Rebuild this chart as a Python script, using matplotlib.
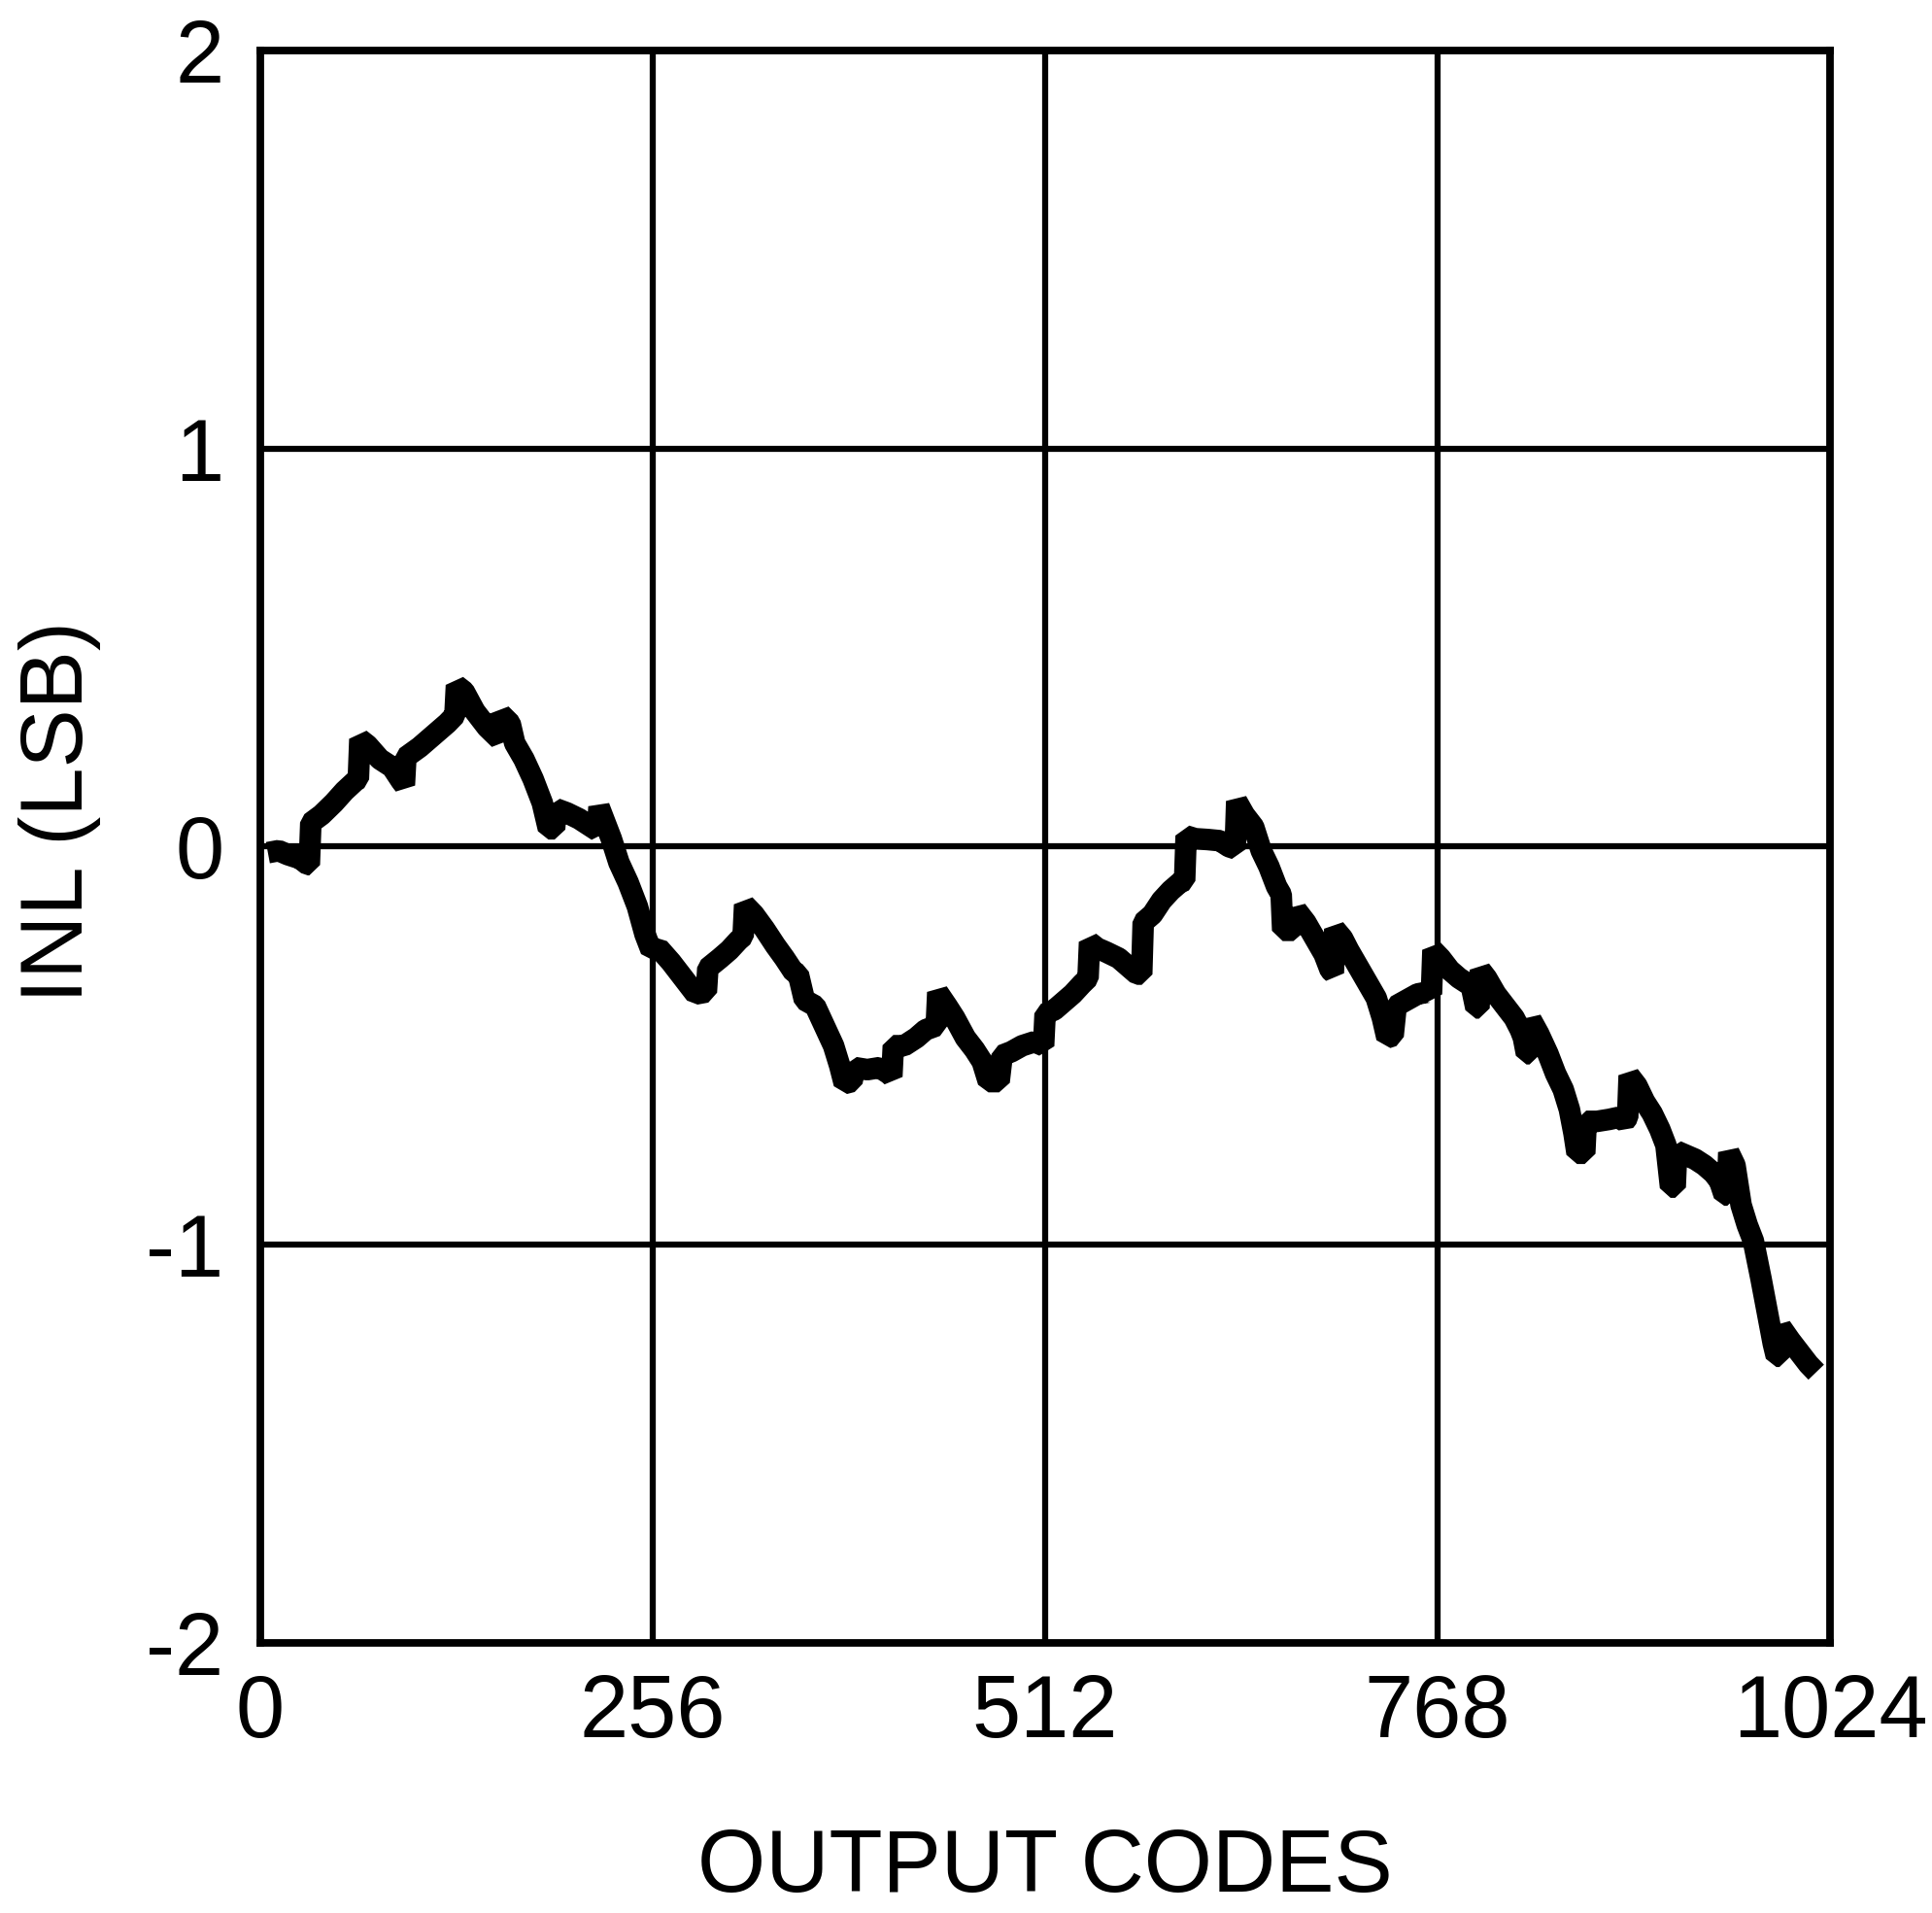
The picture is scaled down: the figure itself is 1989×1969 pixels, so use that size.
import matplotlib
matplotlib.use("Agg")
import matplotlib.pyplot as plt
from matplotlib.ticker import FixedLocator, FixedFormatter

# ---- data ----
output_codes = [
    5, 12, 18, 26, 31, 32, 33, 40, 48, 55, 62, 64, 65, 70, 78, 86, 92, 94, 95,
    104, 113, 122, 127, 128, 133, 140, 148, 156, 157, 163, 166, 172, 178, 184,
    188, 192, 193, 200, 208, 216, 220, 221, 229, 234, 240, 246, 251, 255,
    260, 268, 274, 280, 284, 291, 292, 300, 306, 312, 315, 316, 322, 329, 336,
    342, 348, 351, 355, 362, 368, 374, 378, 381, 386, 388, 396, 404, 410, 412,
    413, 420, 428, 434, 441, 442, 448, 453, 460, 466, 471, 475, 482, 484, 490,
    497, 505, 511, 512, 518, 524, 530, 536, 540, 541, 546, 552, 560, 566, 572,
    575, 576, 582, 588, 594, 600, 603, 604, 610, 618, 626, 632, 636, 637, 642,
    648, 653, 658, 663, 666, 667, 674, 676, 682, 688, 694, 698, 700, 701, 706,
    710, 716, 722, 728, 732, 735, 739, 741, 748, 755, 762, 764, 765, 770, 776,
    782, 788, 790, 793, 795, 796, 800, 806, 812, 818, 822, 824, 826, 828, 829,
    834, 840, 845, 850, 854, 857, 859, 864, 865, 872, 880, 886, 890, 892, 893,
    898, 903, 908, 913, 917, 920, 923, 924, 930, 936, 942, 948, 952, 955, 957,
    958, 962, 966, 970, 974, 979, 983, 987, 989, 991, 992, 998, 1004, 1010, 1015,
]
inl_lsb = [
    -0.015, -0.01, -0.02, -0.03, -0.045, -0.045, 0.06, 0.08, 0.11, 0.14, 0.165, 0.17, 0.27, 0.255, 0.22, 0.20, 0.165, 0.155, 0.225,
    0.25, 0.28, 0.31, 0.33, 0.405, 0.39, 0.34, 0.30, 0.27, 0.333, 0.31, 0.26, 0.22, 0.17, 0.11,
    0.045, 0.045, 0.095, 0.085, 0.07, 0.05, 0.04, 0.10, 0.02, -0.04, -0.09, -0.15, -0.22, -0.26,
    -0.255, -0.29, -0.32, -0.35, -0.37, -0.365, -0.305, -0.28, -0.26, -0.235, -0.225, -0.146, -0.17, -0.207, -0.248,
    -0.28, -0.315, -0.32, -0.385, -0.40, -0.45, -0.50, -0.55, -0.595, -0.59, -0.555, -0.56, -0.555, -0.57, -0.577,
    -0.50, -0.50, -0.48, -0.46, -0.45, -0.366, -0.40, -0.43, -0.48, -0.51, -0.54, -0.59, -0.59, -0.524, -0.515,
    -0.50, -0.49, -0.50, -0.42, -0.41, -0.39, -0.37, -0.345, -0.33, -0.24, -0.255, -0.265, -0.28, -0.30, -0.32,
    -0.32, -0.19, -0.17, -0.135, -0.11, -0.09, -0.085, 0.027, 0.02, 0.018, 0.015, 0.0, -0.005, 0.114, 0.08,
    0.05, -0.01, -0.05, -0.10, -0.12, -0.21, -0.21, -0.16, -0.19, -0.23, -0.27, -0.31, -0.317, -0.207, -0.23,
    -0.26, -0.30, -0.34, -0.38, -0.43, -0.48, -0.475, -0.40, -0.385, -0.37, -0.365, -0.37, -0.26, -0.28, -0.31,
    -0.33, -0.345, -0.35, -0.405, -0.405, -0.31, -0.33, -0.37, -0.40, -0.43, -0.46, -0.48, -0.52, -0.52, -0.435,
    -0.47, -0.52, -0.57, -0.61, -0.66, -0.72, -0.77, -0.77, -0.69, -0.69, -0.685, -0.68, -0.69, -0.68, -0.575,
    -0.60, -0.64, -0.67, -0.71, -0.75, -0.855, -0.855, -0.765, -0.775, -0.785, -0.80, -0.82, -0.84, -0.875, -0.875,
    -0.768, -0.80, -0.90, -0.95, -0.99, -1.085, -1.167, -1.248, -1.28, -1.28, -1.207, -1.24, -1.27, -1.30, -1.32,
]
x_ticks = [0, 256, 512, 768, 1024]
x_tick_labels = ["0", "256", "512", "768", "1024"]
y_ticks = [-2, -1, 0, 1, 2]
y_tick_labels = ["-2", "-1", "0", "1", "2"]
x_label = "OUTPUT CODES"
y_label = "INL (LSB)"

plt.rcParams["font.family"] = ["Liberation Sans", "DejaVu Sans"]
plt.rcParams["axes.unicode_minus"] = False

fig = plt.figure(figsize=(19.89, 19.69), dpi=100)
ax = fig.add_axes([0.1347, 0.1412, 0.8125, 0.8324])

ax.plot(output_codes, inl_lsb, color="black", linewidth=16,
        solid_joinstyle="bevel", solid_capstyle="butt", zorder=3)

ax.set_xlim(0, 1024)
ax.set_ylim(-2, 2)
ax.xaxis.set_major_locator(FixedLocator(x_ticks))
ax.xaxis.set_major_formatter(FixedFormatter(x_tick_labels))
ax.yaxis.set_major_locator(FixedLocator(y_ticks))
ax.yaxis.set_major_formatter(FixedFormatter(y_tick_labels))
ax.tick_params(axis="both", length=0, labelsize=65, colors="black")
ax.tick_params(axis="x", pad=22)
ax.tick_params(axis="y", pad=27)

ax.grid(True, color="black", linewidth=4.5, zorder=1)
ax.set_axisbelow(True)
for sp in ax.spines.values():
    sp.set_linewidth(5.6)
    sp.set_color("black")
    sp.set_zorder(4)

ax.set_xlabel(x_label, fontsize=65, va="center")
ax.xaxis.set_label_coords(0.5, -0.142)
ax.set_ylabel(y_label, fontsize=65, va="center", ha="center")
ax.yaxis.set_label_coords(-0.1275, 0.522)

fig.savefig("out.png", dpi=100, facecolor="white")
